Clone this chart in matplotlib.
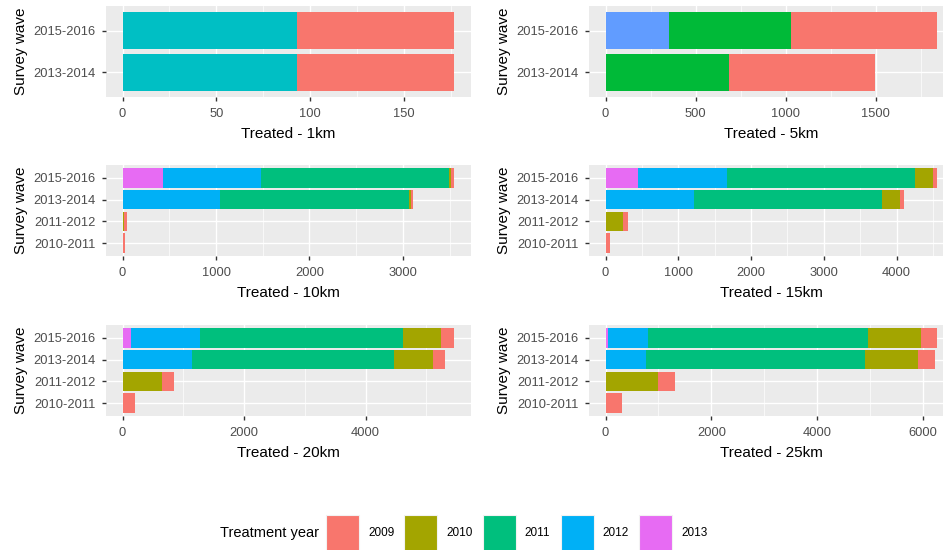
import matplotlib
matplotlib.use("Agg")
import numpy as np
import matplotlib.pyplot as plt
from matplotlib.ticker import MultipleLocator
from matplotlib.patches import Rectangle

plt.rcParams["font.family"] = ["Liberation Sans", "DejaVu Sans"]

W, H = 943, 550

waves_2 = ["2013-2014", "2015-2016"]
waves_4 = ["2010-2011", "2011-2012", "2013-2014", "2015-2016"]
years = [2009, 2010, 2011, 2012, 2013]

# treated counts per treatment year, one value per survey wave
km1 = {2009: [84, 84], 2011: [93, 93]}
km5 = {2009: [810, 812], 2011: [684, 680], 2012: [0, 351]}
km10 = {2009: [30, 30, 32, 36], 2010: [0, 18, 18, 18],
        2011: [0, 0, 2025, 2021], 2012: [0, 0, 1039, 1043], 2013: [0, 0, 0, 434]}
km15 = {2009: [59, 64, 54, 59], 2010: [0, 245, 252, 247],
        2011: [0, 0, 2585, 2593], 2012: [0, 0, 1214, 1218], 2013: [0, 0, 0, 445]}
km20 = {2009: [202, 202, 208, 213], 2010: [0, 646, 645, 635],
        2011: [0, 0, 3322, 3338], 2012: [0, 0, 1138, 1138], 2013: [0, 0, 0, 137]}
km25 = {2009: [318, 314, 308, 315], 2010: [0, 999, 1006, 1005],
        2011: [0, 0, 4150, 4147], 2012: [0, 0, 760, 760], 2013: [0, 0, 0, 50]}

hue5 = {2009: "#F8766D", 2010: "#A3A500", 2011: "#00BF7D", 2012: "#00B0F6", 2013: "#E76BF3"}
hue2 = {2009: "#F8766D", 2011: "#00BFC4"}
hue3 = {2009: "#F8766D", 2011: "#00BA38", 2012: "#619CFF"}

panels = [
    (km1, waves_2, hue2, "Treated - 1km", 50, 106, 6),
    (km5, waves_2, hue3, "Treated - 5km", 500, 589, 6),
    (km10, waves_4, hue5, "Treated - 10km", 1000, 106, 165),
    (km15, waves_4, hue5, "Treated - 15km", 1000, 589, 165),
    (km20, waves_4, hue5, "Treated - 20km", 2000, 106, 325),
    (km25, waves_4, hue5, "Treated - 25km", 2000, 589, 325),
]

fig = plt.figure(figsize=(W / 100, H / 100), dpi=100)

pw, ph = 365, 91
for data, waves, pal, title, step, px, py in panels:
    ax = fig.add_axes([px / W, 1 - (py + ph) / H, pw / W, ph / H])
    ax.set_facecolor("#EBEBEB")
    ax.set_axisbelow(True)
    pos = np.arange(len(waves))
    left = np.zeros(len(waves))
    # later treatment years sit at the left of each stack
    for yr in sorted(data, reverse=True):
        vals = np.array(data[yr], dtype=float)
        ax.barh(pos, vals, left=left, height=0.9, color=pal[yr], edgecolor="none")
        left += vals
    top = left.max()
    ax.set_xlim(-0.05 * top, 1.05 * top)
    ax.set_ylim(-0.6, len(waves) - 0.4)
    ax.set_yticks(pos)
    ax.set_yticklabels(waves)
    ax.xaxis.set_major_locator(MultipleLocator(step))
    ax.xaxis.set_minor_locator(MultipleLocator(step / 2))
    ax.grid(which="major", color="white", linewidth=1.0)
    ax.grid(which="minor", axis="x", color="white", linewidth=0.5)
    for s in ax.spines.values():
        s.set_visible(False)
    ax.tick_params(which="major", length=3.2, width=1.0, color="#333333",
                   labelcolor="#4D4D4D", labelsize=9.3)
    ax.tick_params(axis="x", which="major", pad=4.7)
    ax.tick_params(axis="y", which="major", pad=4.3)
    ax.tick_params(which="minor", length=0)
    ax.set_xlabel(title, fontsize=11, labelpad=5.2)
    ax.set_ylabel("Survey wave", fontsize=11, labelpad=4.1)

# legend along the bottom
ly = 533
fig.text(220 / W, 1 - ly / H, "Treatment year", fontsize=10.5, va="center", ha="left")
for i, yr in enumerate(years):
    kx = 326 + 78.3 * i
    fig.patches.append(Rectangle((kx / W, 1 - 552 / H), 33 / W, 37 / H,
                                 transform=fig.transFigure, facecolor=hue5[yr],
                                 edgecolor="#F2F2F2", linewidth=0.8))
    fig.text((kx + 42) / W, 1 - ly / H, str(yr), fontsize=8.5, va="center", ha="left")

fig.savefig("out.png", dpi=100, facecolor="white")
